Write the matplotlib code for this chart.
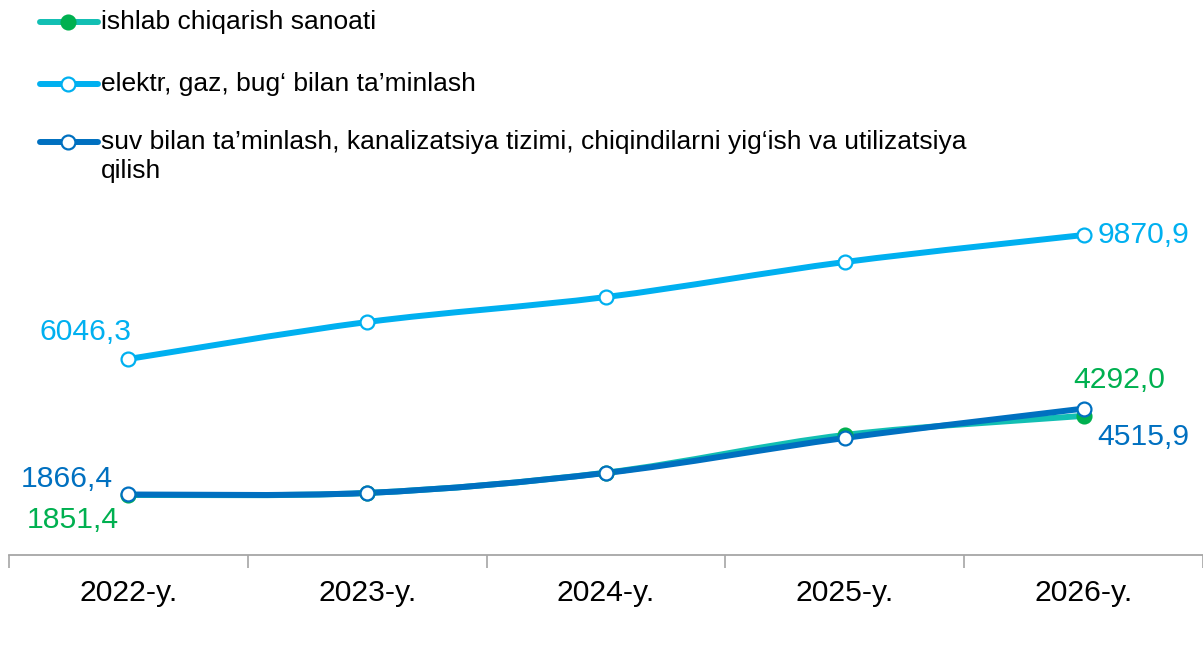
import numpy as np
import matplotlib
matplotlib.use("Agg")
import matplotlib.pyplot as plt
from matplotlib.path import Path
from matplotlib.patches import PathPatch
from matplotlib.lines import Line2D

plt.rcParams["font.family"] = ["Liberation Sans", "DejaVu Sans"]

# data
years = ["2022-y.", "2023-y.", "2024-y.", "2025-y.", "2026-y."]
ishlab = [1851.4, 1914.0, 2540.0, 3702.0, 4292.0]
elektr = [6046.3, 7187.0, 7958.0, 9038.0, 9870.9]
suv = [1866.4, 1914.0, 2531.0, 3610.0, 4515.9]

names = ["ishlab chiqarish sanoati",
         "elektr, gaz, bug\u2018 bilan ta\u2019minlash",
         "suv bilan ta\u2019minlash, kanalizatsiya tizimi, chiqindilarni yig\u2018ish va utilizatsiya\nqilish"]

# colours
c_teal = "#12BFB3"
c_green = "#00B050"
c_light = "#00B0F0"
c_dark = "#0070C0"


def smooth_path(x, y):
    # bezier through the points, similar to excel "smoothed line"
    pts = np.column_stack([x, y]).astype(float)
    n = len(pts)
    verts = [pts[0]]
    codes = [Path.MOVETO]
    for i in range(n - 1):
        p0 = pts[i - 1] if i > 0 else pts[i]
        p1 = pts[i]
        p2 = pts[i + 1]
        p3 = pts[i + 2] if i + 2 < n else pts[i + 1]
        c1 = p1 + (p2 - p0) / 6.0
        c2 = p2 - (p3 - p1) / 6.0
        verts += [c1, c2, p2]
        codes += [Path.CURVE4] * 3
    return Path(verts, codes)


fig = plt.figure(figsize=(12.03, 6.70), dpi=100)
ax = fig.add_axes([9 / 1203, 115 / 670, 1194 / 1203, 389 / 670])

x = np.arange(len(years))

series = [
    (ishlab, c_teal, c_green, c_green),
    (elektr, c_light, "white", c_light),
    (suv, c_dark, "white", c_dark),
]
for vals, lc, mfc, mec in series:
    ax.add_patch(PathPatch(smooth_path(x, vals), fill=False, edgecolor=lc,
                           lw=4.3, capstyle="round", joinstyle="round"))
    ax.plot(x, vals, linestyle="none", marker="o", markersize=10,
            markerfacecolor=mfc, markeredgecolor=mec, markeredgewidth=1.6, zorder=3)

ax.set_xlim(-0.5, len(years) - 0.5)
ax.set_ylim(0, 12000)

for s in ["top", "right", "left"]:
    ax.spines[s].set_visible(False)
ax.spines["bottom"].set_color("#A6A6A6")
ax.spines["bottom"].set_linewidth(1.3)
ax.set_yticks([])

ax.set_xticks(x)
ax.set_xticklabels(years, fontsize=21.7)
ax.tick_params(axis="x", which="major", length=0, pad=17.5)
ax.set_xticks(np.arange(len(years) + 1) - 0.5, minor=True)
ax.tick_params(axis="x", which="minor", length=9, color="#A6A6A6", width=1.2)

fs = 21.7
def lab(text, xi, yv, dx, dy, color, ha):
    ax.annotate(text, (xi, yv), xytext=(dx, dy), textcoords="offset pixels",
                ha=ha, va="center", fontsize=fs, color=color)

lab("6046,3", 0, elektr[0], -43, 27, c_light, "center")
lab("9870,9", 4, elektr[4], 14, 0, c_light, "left")
lab("1866,4", 0, suv[0], -16, 15, c_dark, "right")
lab("1851,4", 0, ishlab[0], -10, -25, c_green, "right")
lab("4292,0", 4, ishlab[4], 36, 36, c_green, "center")
lab("4515,9", 4, suv[4], 14, -28, c_dark, "left")

# legend drawn by hand so the handle sits on the first text line
leg_y = [22, 84, 142]
for (vals, lc, mfc, mec), name, yy in zip(series, names, leg_y):
    yf = 1 - yy / 670
    fig.add_artist(Line2D([40 / 1203, 98 / 1203], [yf, yf], transform=fig.transFigure,
                          color=lc, lw=4.3, solid_capstyle="round"))
    fig.add_artist(Line2D([68 / 1203], [yf], transform=fig.transFigure, marker="o",
                          markersize=10, markerfacecolor=mfc, markeredgecolor=mec,
                          markeredgewidth=1.6, linestyle="none"))
    fig.text(101 / 1203, yf + 12 / 670, name, fontsize=19, color="black",
             ha="left", va="top", linespacing=1.25)

fig.savefig("out.png", dpi=100)
